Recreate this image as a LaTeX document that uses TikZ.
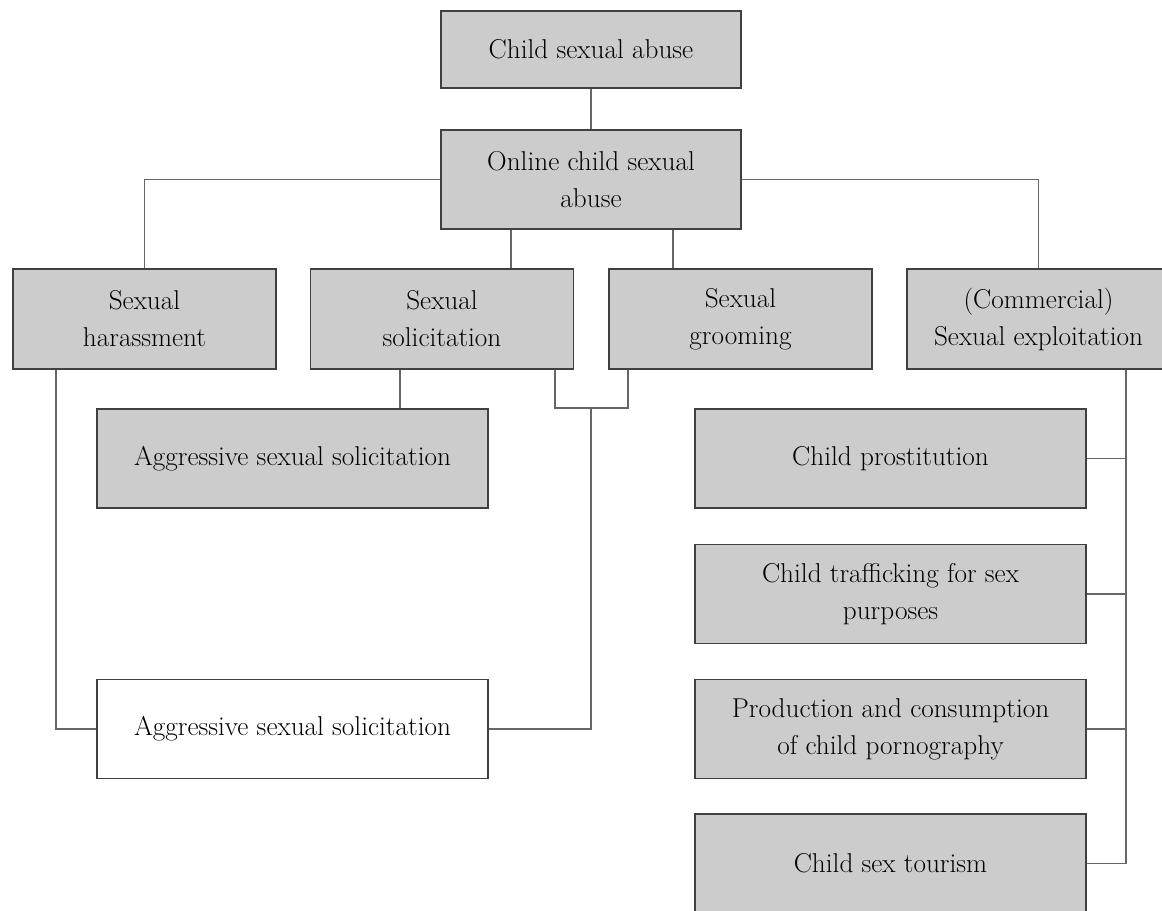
\documentclass[tikz,border=0pt]{standalone}
\usepackage{tikz}
\usetikzlibrary{positioning}
\tikzset{box/.style = {draw=black!75, line width=0.9pt, fill=black!20, align=center,
                       inner sep=0pt, font=\fontsize{15.5}{21}\selectfont}}
\tikzset{midbox/.style = {box, minimum width=5.26cm, minimum height=2cm}}
\tikzset{widebox/.style = {box, minimum width=7.82cm, minimum height=1.98cm}}
\tikzset{topbox/.style = {box, minimum width=6cm}}
\tikzset{link/.style = {draw=black!60, line width=0.9pt}}

\begin{document}
\begin{tikzpicture}[x=0.02cm, y=-0.02cm]
    \useasboundingbox (0, 0) rectangle (1162, 910);
    \clip (0, 0) rectangle (1162, 910);

    \node [topbox, minimum height=1.54cm] (csa) at (591, 49.5) {Child sexual abuse};
    \node [topbox, minimum height=1.98cm] (ocsa) at (591, 179.5) {Online child sexual\\abuse};

    \node [midbox] (har) at (144.5, 319) {Sexual\\harassment};
    \node [midbox] (sol) at (442, 319) {Sexual\\solicitation};
    \node [midbox] (grm) at (740.5, 319) {Sexual\\grooming};
    \node [midbox] (exp) at (1038.5, 319) {(Commercial)\\Sexual exploitation};

    \node [widebox] (agg) at (292.5, 458.5) {Aggressive sexual solicitation};
    \node [widebox, fill=white] (aggw) at (292.5, 729) {Aggressive sexual solicitation};

    \node [widebox] (pros) at (890.5, 458.5) {Child prostitution};
    \node [widebox] (traf) at (890.5, 594) {Child trafficking for sex\\purposes};
    \node [widebox] (porn) at (890.5, 729) {Production and consumption\\of child pornography};
    \node [widebox] (tour) at (890.5, 863.5) {Child sex tourism};

    \draw [link] (csa) -- (ocsa);
    \draw [link] (ocsa.west) -| (har.north);
    \draw [link] (ocsa.east) -| (exp.north);
    \draw [link] ([xshift=-1.6cm]ocsa.south) -- ([xshift=-1.6cm]ocsa.south |- sol.north);
    \draw [link] ([xshift=1.64cm]ocsa.south) -- ([xshift=1.64cm]ocsa.south |- grm.north);

    \draw [link] ([xshift=-0.84cm]sol.south) -- ([xshift=-0.84cm]sol.south |- agg.north);
    \coordinate (solfoot) at ([xshift=-0.38cm]sol.south east);
    \coordinate (grmfoot) at ([xshift=0.4cm]grm.south west);
    \draw [link] (solfoot) |- (grmfoot |- agg.north) -- (grmfoot);
    \draw [link] (ocsa.south |- agg.north) |- (aggw.east);
    \draw [link] ([xshift=0.88cm]har.south west) |- (aggw.west);

    \coordinate (rail) at ([xshift=1.75cm]exp.south);
    \draw [link] (rail) |- (tour.east);
    \draw [link] (pros.east) -- (pros.east -| rail);
    \draw [link] (traf.east) -- (traf.east -| rail);
    \draw [link] (porn.east) -- (porn.east -| rail);
\end{tikzpicture}
\end{document}
